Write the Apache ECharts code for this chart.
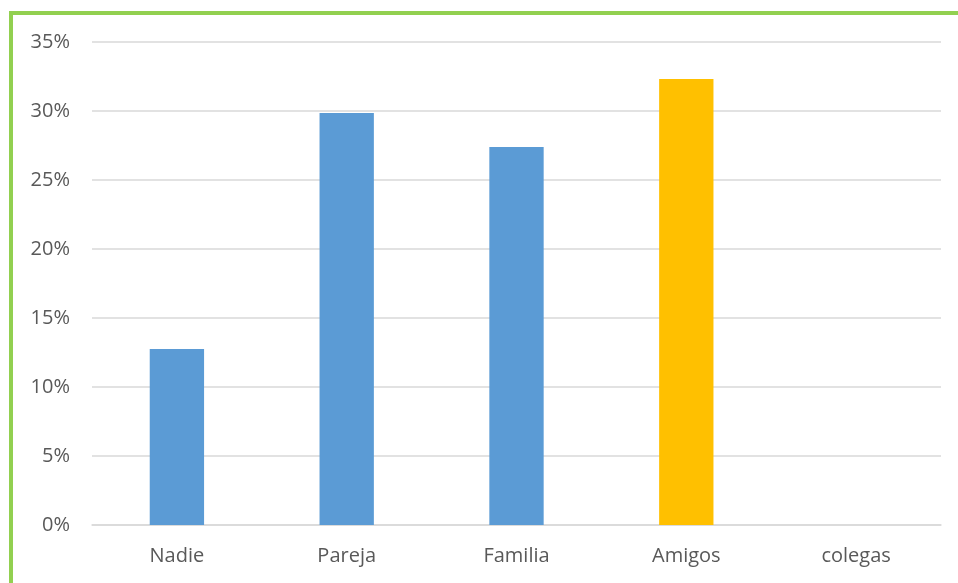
<!DOCTYPE html>
<html><head><meta charset="utf-8">
<script src="https://cdn.jsdelivr.net/npm/echarts@6/dist/echarts.min.js"></script>
<style>html,body{margin:0;padding:0;background:#fff}#c{width:958px;height:583px}</style>
</head><body><div id="c"></div>
<script>
var categories = ['Nadie', 'Pareja', 'Familia', 'Amigos', 'colegas'];
var values = [12.75, 29.86, 27.39, 32.32, 0];
var barColors = ['#5B9BD5', '#5B9BD5', '#5B9BD5', '#FFC000', '#5B9BD5'];
var yTicks = [0, 5, 10, 15, 20, 25, 30, 35];

var chart = echarts.init(document.getElementById('c'));
chart.setOption({
  animation: false,
  graphic: [
    {type: 'rect', shape: {x: 9, y: 11, width: 4, height: 572}, style: {fill: '#92D050'}},
    {type: 'rect', shape: {x: 9, y: 11, width: 949, height: 4}, style: {fill: '#92D050'}}
  ],
  grid: {left: 92, right: 17, top: 42, bottom: 58},
  xAxis: {
    type: 'category', data: categories,
    axisLine: {lineStyle: {color: '#D9D9D9', width: 1.5}},
    axisTick: {show: false},
    axisLabel: {color: '#595959', fontSize: 20, fontFamily: 'Open Sans', margin: 21}
  },
  yAxis: {
    type: 'value', min: 0, max: 35, interval: 5,
    axisLine: {show: false}, axisTick: {show: false},
    axisLabel: {color: '#595959', fontSize: 20, fontFamily: 'Open Sans', margin: 22,
      formatter: function (v) { return yTicks.indexOf(v) >= 0 ? v + '%' : ''; }},
    splitLine: {lineStyle: {color: '#D9D9D9', width: 1.5}}
  },
  series: [{
    type: 'bar', barWidth: '32%',
    data: values.map(function (v, i) { return {value: v, itemStyle: {color: barColors[i]}}; })
  }]
});
</script></body></html>
